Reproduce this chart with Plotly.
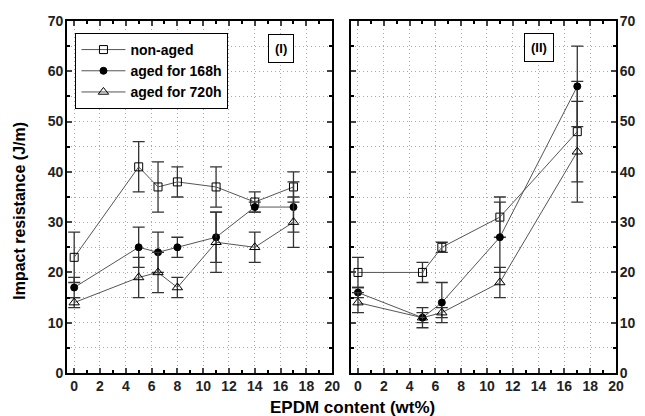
import plotly.graph_objects as go

# Panel I data
x1 = [0, 5, 6.5, 8, 11, 14, 17]
na1 = [23, 41, 37, 38, 37, 34, 37]
na1_err = [5, 5, 5, 3, 4, 2, 3]
a168_1 = [17, 25, 24, 25, 27, 33, 33]
a168_1_err = [2, 4, 4, 2, 5, 1, 5]
a720_1 = [14, 19, 20, 17, 26, 25, 30]
a720_1_err = [1, 4, 4, 2, 6, 3, 5]

# Panel II data
x2 = [0, 5, 6.5, 11, 17]
na2 = [20, 20, 25, 31, 48]
na2_err = [3, 2, 1, 4, 10]
a168_2 = [16, 11, 14, 27, 57]
a168_2_err = [1, 1, 4, 7, 8]
a720_2 = [14, 11, 12, 18, 44]
a720_2_err = [2, 2, 1, 3, 10]

names = ["non-aged", "aged for 168h", "aged for 720h"]
symbols = ["square-open", "circle", "triangle-up-open"]
sizes = [8, 7, 9]

FONT = "Liberation Sans"
LINE_C = "#555555"
ERR_C = "#333333"

fig = go.Figure()

panel1 = [(na1, na1_err), (a168_1, a168_1_err), (a720_1, a720_1_err)]
panel2 = [(na2, na2_err), (a168_2, a168_2_err), (a720_2, a720_2_err)]

for i, (ys, es) in enumerate(panel1):
    fig.add_trace(go.Scatter(
        x=x1, y=ys, mode="lines+markers", name=names[i],
        line=dict(color=LINE_C, width=1),
        marker=dict(symbol=symbols[i], size=sizes[i], color="black",
                    line=dict(color="black", width=1)),
        error_y=dict(type="data", array=es, visible=True, color=ERR_C,
                     thickness=1.3, width=6),
        xaxis="x", yaxis="y", showlegend=True))

for i, (ys, es) in enumerate(panel2):
    fig.add_trace(go.Scatter(
        x=x2, y=ys, mode="lines+markers", name=names[i],
        line=dict(color=LINE_C, width=1),
        marker=dict(symbol=symbols[i], size=sizes[i], color="black",
                    line=dict(color="black", width=1)),
        error_y=dict(type="data", array=es, visible=True, color=ERR_C,
                     thickness=1.3, width=6),
        xaxis="x2", yaxis="y2", showlegend=False))

grid_c = "#a8a8a8"
gdash = "1px,3px"
tickfont = dict(family=FONT, size=14, color="#222", weight="bold")
xcommon = dict(range=[-0.55, 20], dtick=2, tick0=0, ticks="inside", ticklen=5,
               tickwidth=1.5, mirror="ticks", showline=True, linecolor="black",
               linewidth=2, showgrid=True, gridcolor=grid_c, griddash=gdash,
               gridwidth=1, zeroline=False, automargin=False,
               ticklabelstandoff=-1,
               minor=dict(dtick=1, ticks="inside", ticklen=3, tickcolor="black",
                          showgrid=False),
               tickfont=tickfont)
ycommon = dict(range=[0, 70], dtick=10, ticks="inside", ticklen=5, tickwidth=1.5,
               mirror="ticks", showline=True, linecolor="black", linewidth=2,
               showgrid=True, gridcolor=grid_c, griddash=gdash, gridwidth=1,
               zeroline=False, automargin=False, ticklabelstandoff=-1,
               minor=dict(dtick=5, ticks="inside", ticklen=3, tickcolor="black",
                          showgrid=True, gridcolor=grid_c, griddash=gdash),
               tickfont=tickfont)

fig.update_layout(
    width=645, height=416,
    margin=dict(l=0, r=0, t=21, b=43, autoexpand=False),
    paper_bgcolor="white", plot_bgcolor="white",
    font=dict(family=FONT, color="black"),
    xaxis=dict(domain=[0.104, 0.515], anchor="y", **xcommon),
    yaxis=dict(domain=[0, 1], anchor="x", side="left", **ycommon),
    xaxis2=dict(domain=[0.544, 0.955], anchor="y2", **xcommon),
    yaxis2=dict(domain=[0, 1], anchor="x2", side="right", **ycommon),
    legend=dict(x=0.117, y=0.966, xanchor="left", yanchor="top",
                bordercolor="black", borderwidth=1, bgcolor="white",
                font=dict(family=FONT, size=14, color="black", weight="bold"),
                tracegroupgap=0, itemwidth=44),
    annotations=[
        dict(text="<b>Impact resistance (J/m)</b>", x=0.029, y=0.46, xref="paper",
             yref="paper", textangle=-90, showarrow=False,
             xanchor="center", yanchor="middle",
             font=dict(family=FONT, size=16)),
        dict(text="<b>EPDM content (wt%)</b>", x=0.546, y=-0.097, xref="paper",
             yref="paper", showarrow=False, yanchor="middle", xanchor="center",
             font=dict(family=FONT, size=17)),
        dict(text="<b>(I)</b>", x=16.0, y=64.6, xref="x", yref="y",
             showarrow=False, bordercolor="black", borderwidth=1, borderpad=6,
             bgcolor="white", font=dict(family=FONT, size=13)),
        dict(text="<b>(II)</b>", x=14.0, y=64.8, xref="x2", yref="y2",
             showarrow=False, bordercolor="black", borderwidth=1, borderpad=6,
             bgcolor="white", font=dict(family=FONT, size=13)),
    ],
)

fig.write_html("out.html", config={"displayModeBar": False},
               post_script="document.body.style.margin='0';document.body.style.padding='0';")
